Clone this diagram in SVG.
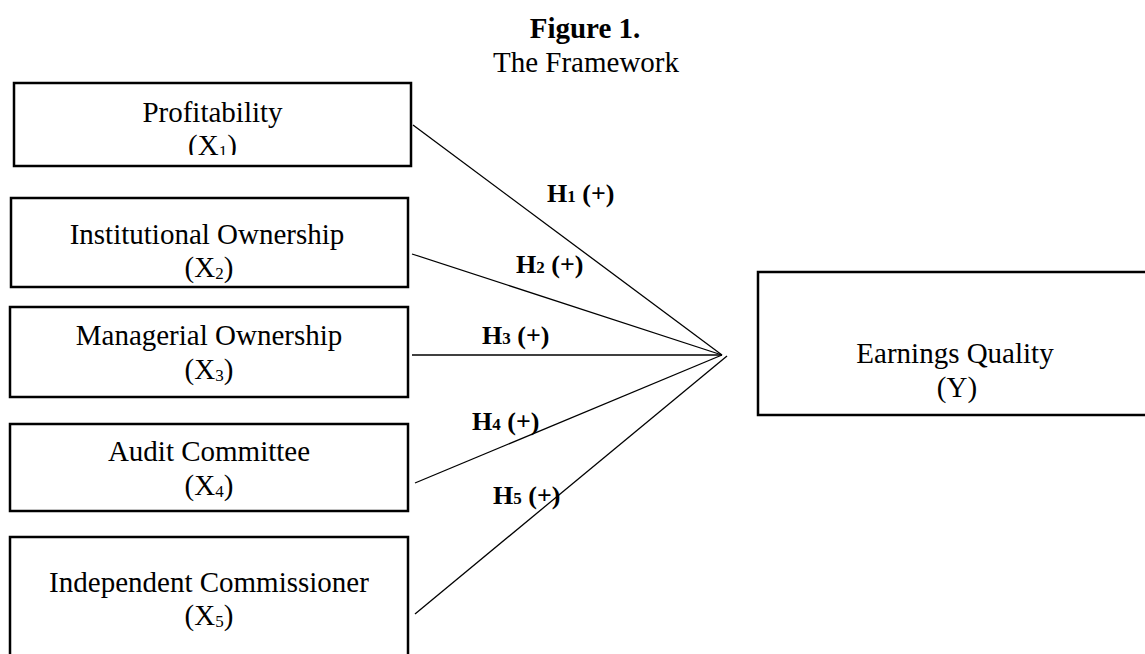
<svg xmlns="http://www.w3.org/2000/svg" width="1145" height="654" viewBox="0 0 1145 654">
<style>
  .box { fill: #fff; stroke: #000; stroke-width: 2.5; }
  .t { font-family: "Liberation Serif", "Times New Roman", serif; font-size: 29px; fill: #000; text-anchor: middle; }
  .tb { font-family: "Liberation Serif", "Times New Roman", serif; font-size: 29px; font-weight: bold; fill: #000; text-anchor: middle; }
  .lbl { font-family: "Liberation Serif", "Times New Roman", serif; font-size: 26px; font-weight: bold; fill: #000; }
  .sub { font-size: 17px; }
  .conn line { stroke: #000; stroke-width: 1.3; }
</style>
<defs>
  <clipPath id="clip1"><rect x="14" y="83" width="397" height="72"/></clipPath>
</defs>
<rect width="1145" height="654" fill="#fff"/>
<g id="title">
  <text class="tb" x="585" y="38">Figure 1.</text>
  <text class="t" x="586" y="72">The Framework</text>
</g>
<g id="x1">
  <rect class="box" x="14" y="83" width="397" height="83"/>
  <g clip-path="url(#clip1)">
    <text class="t" x="212.5" y="122">Profitability</text>
    <text class="t" x="212.5" y="155">(X<tspan class="sub" dy="2">1</tspan><tspan dy="-2">)</tspan></text>
  </g>
</g>
<g id="x2">
  <rect class="box" x="11" y="198" width="397" height="89"/>
  <text class="t" x="207" y="244">Institutional Ownership</text>
  <text class="t" x="209" y="277">(X<tspan class="sub" dy="2">2</tspan><tspan dy="-2">)</tspan></text>
</g>
<g id="x3">
  <rect class="box" x="10" y="307" width="398" height="90"/>
  <text class="t" x="209" y="345">Managerial Ownership</text>
  <text class="t" x="209" y="379">(X<tspan class="sub" dy="2">3</tspan><tspan dy="-2">)</tspan></text>
</g>
<g id="x4">
  <rect class="box" x="10" y="424" width="398" height="87"/>
  <text class="t" x="209" y="461">Audit Committee</text>
  <text class="t" x="209" y="495">(X<tspan class="sub" dy="2">4</tspan><tspan dy="-2">)</tspan></text>
</g>
<g id="x5">
  <rect class="box" x="10" y="537" width="398" height="140"/>
  <text class="t" x="209" y="592">Independent Commissioner</text>
  <text class="t" x="209" y="625">(X<tspan class="sub" dy="2">5</tspan><tspan dy="-2">)</tspan></text>
</g>
<g id="y">
  <rect class="box" x="758" y="272" width="420" height="143"/>
  <text class="t" x="955" y="363">Earnings Quality</text>
  <text class="t" x="957" y="397">(Y)</text>
</g>
<g id="connectors" class="conn">
  <line x1="413" y1="125" x2="722" y2="355"/>
  <line x1="412" y1="254" x2="722" y2="355"/>
  <line x1="412" y1="355" x2="722" y2="355"/>
  <line x1="415" y1="483" x2="722" y2="355"/>
  <line x1="415" y1="614" x2="727" y2="356"/>
</g>
<g id="labels">
  <text class="lbl" x="547" y="202">H<tspan class="sub">1</tspan> (+)</text>
  <text class="lbl" x="516" y="273">H<tspan class="sub">2</tspan> (+)</text>
  <text class="lbl" x="482" y="344">H<tspan class="sub">3</tspan> (+)</text>
  <text class="lbl" x="472" y="430">H<tspan class="sub">4</tspan> (+)</text>
  <text class="lbl" x="493" y="504">H<tspan class="sub">5</tspan> (+)</text>
</g>
</svg>
